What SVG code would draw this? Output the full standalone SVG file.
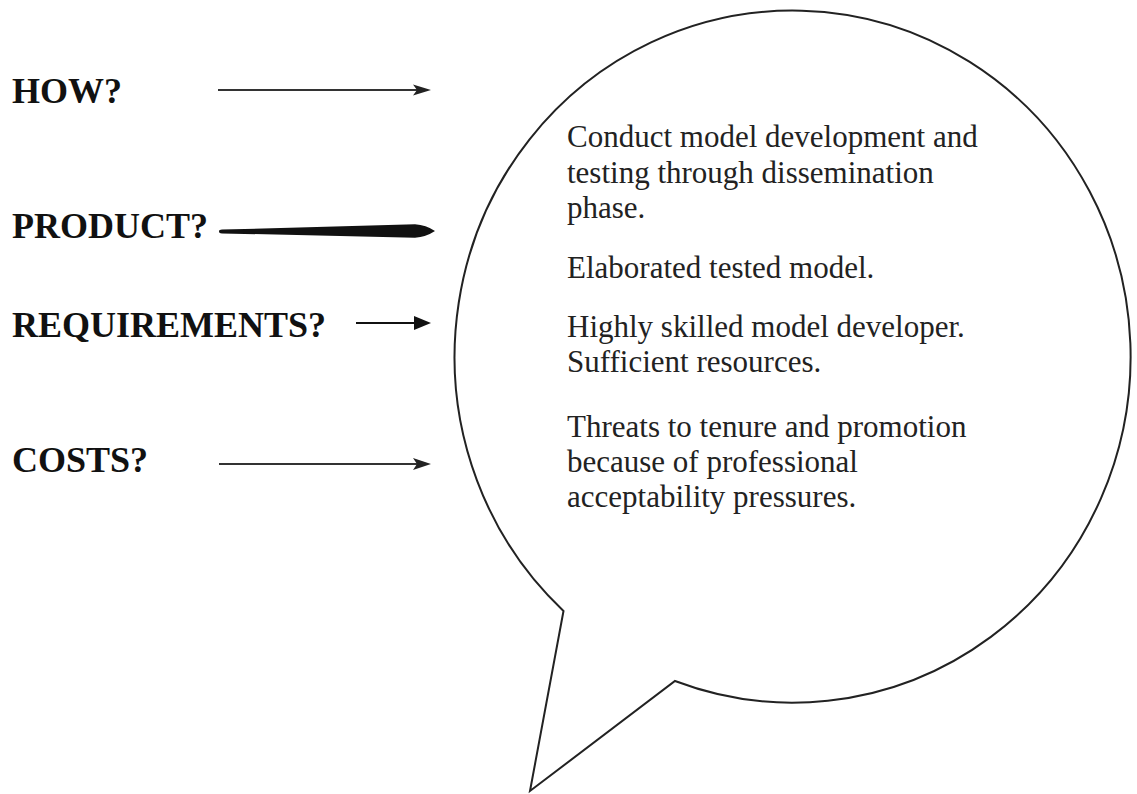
<svg xmlns="http://www.w3.org/2000/svg" width="1137" height="794" viewBox="0 0 1137 794">
  <style>
    .label { font-family: "Liberation Serif", "Times New Roman", serif; font-weight: bold; font-size: 36px; fill: #111; }
    .body { font-family: "Liberation Serif", "Times New Roman", serif; font-size: 31px; fill: #222; }
    .shaft { stroke: #333; stroke-width: 2; fill: none; }
    .head { fill: #222; }
    .bubble { fill: #fff; stroke: #222; stroke-width: 2; stroke-linejoin: miter; }
  </style>
  <rect width="1137" height="794" fill="#fff"/>

  <g id="bubble">
    <path class="bubble" d="M 563.5 611 L 530 791 L 675 681 A 338 346 0 1 0 563.5 611 Z"/>
    <text class="body" x="567" y="147">Conduct model development and</text>
    <text class="body" x="567" y="183">testing through dissemination</text>
    <text class="body" x="567" y="218">phase.</text>
    <text class="body" x="567" y="278">Elaborated tested model.</text>
    <text class="body" x="567" y="337">Highly skilled model developer.</text>
    <text class="body" x="567" y="372">Sufficient resources.</text>
    <text class="body" x="567" y="437">Threats to tenure and promotion</text>
    <text class="body" x="567" y="472">because of professional</text>
    <text class="body" x="567" y="507">acceptability pressures.</text>
  </g>

  <g id="how"><text class="label" x="12" y="103">HOW?</text></g>
  <g id="product"><text class="label" x="12" y="238">PRODUCT?</text></g>
  <g id="requirements"><text class="label" x="12" y="337">REQUIREMENTS?</text></g>
  <g id="costs"><text class="label" x="12" y="472">COSTS?</text></g>

  <g id="connectors">
    <line class="shaft" x1="218" y1="90" x2="418" y2="90"/>
    <path class="head" d="M 431 90 L 413 84.5 L 417 90 L 413 95.5 Z"/>

    <path fill="#111" d="M 219 231.5 Q 219 229.6 222 229.6 L 415 224.3 Q 426 225 435 231 Q 426 237 415 237.7 L 222 233.4 Q 219 233.4 219 231.5 Z"/>

    <line x1="356" y1="323" x2="418" y2="323" style="stroke:#111;stroke-width:2"/>
    <path d="M 431 323 L 414 316 L 414 330 Z" style="fill:#111"/>

    <line class="shaft" x1="219" y1="464" x2="418" y2="464"/>
    <path class="head" d="M 431 464 L 413 458 L 417 464 L 413 470 Z"/>
  </g>
</svg>
